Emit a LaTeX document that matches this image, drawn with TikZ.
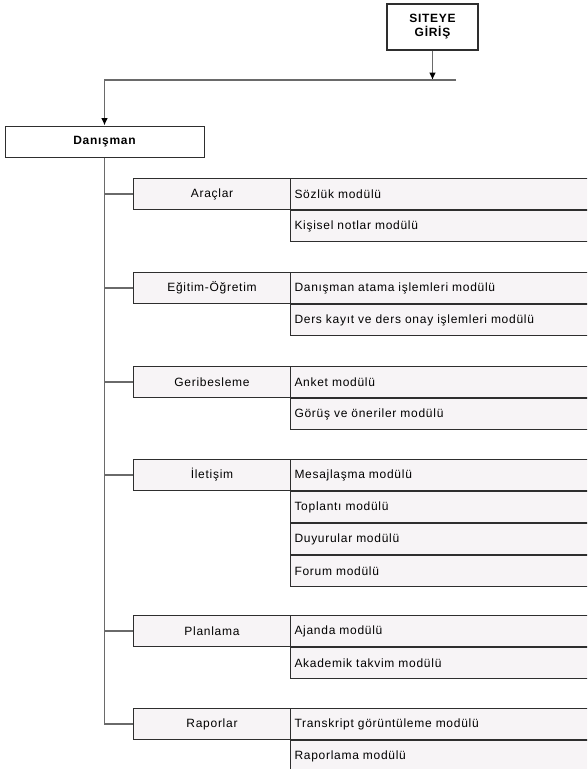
\documentclass[tikz,border=0pt]{standalone}
\usepackage{fontspec}
\newfontfamily\lbl[LetterSpace=6]{Liberation Sans}
\usetikzlibrary{arrows.meta}
\definecolor{boxfill}{HTML}{F7F4F6}
\definecolor{boxline}{HTML}{2E2E2E}
\definecolor{connline}{HTML}{6A6A6A}
\begin{document}
\begin{tikzpicture}[x=0.75pt,y=-0.75pt,
  txt/.style={font={\lbl\fontsize{9}{10.5}\selectfont}},
  box/.style={draw=boxline, fill=boxfill, line width=0.75pt, inner sep=0pt, txt},
  cat/.style={box, minimum width=157*0.75pt, minimum height=31*0.75pt, anchor=north west},
  mod/.style={box, minimum height=31*0.75pt, text width=226.5pt, inner xsep=3pt, align=left, anchor=north west},
  head/.style={draw=boxline, fill=white, line width=1.1pt, inner sep=0pt, align=center,
    font={\lbl\bfseries\fontsize{9}{10.5}\selectfont}},
  conn/.style={draw=connline, line width=1.1pt},
  tip/.style={-{Latex[length=5.5pt,width=5pt,color=black]}}]
\useasboundingbox (0,0) rectangle (587,769);
\clip (0,0) rectangle (587,769);

% entry box and the advisor box
\node[head, minimum width=91*0.75pt, minimum height=46*0.75pt] (giris) at (432.5,27) {SITEYE\\GİRİŞ};
\node[head, line width=0.75pt, minimum width=199*0.75pt, minimum height=31*0.75pt] (dan) at (104.5,141.5) {Danışman};

\coordinate (barR) at (456,80);
\draw[conn, tip] (giris.south) -- (giris.south |- barR);
\draw[conn, tip] (barR) -- (dan.north |- barR) -- (dan.north);

% categories with their modules
\node[cat] (c1) at (133,178) {Araçlar};
\node[mod] (m11) at (290,178) {Sözlük modülü};
\node[mod] (m12) at (m11.south west) {Kişisel notlar modülü};

\node[cat] (c2) at (133,272) {Eğitim-Öğretim};
\node[mod] (m21) at (290,272) {Danışman atama işlemleri modülü};
\node[mod] (m22) at (m21.south west) {Ders kayıt ve ders onay işlemleri modülü};

\node[cat] (c3) at (133,366) {Geribesleme};
\node[mod] (m31) at (290,366) {Anket modülü};
\node[mod] (m32) at (m31.south west) {Görüş ve öneriler modülü};

\node[cat] (c4) at (133,459) {İletişim};
\node[mod] (m41) at (290,459) {Mesajlaşma modülü};
\node[mod] (m42) at (m41.south west) {Toplantı modülü};
\node[mod] (m43) at (m42.south west) {Duyurular modülü};
\node[mod] (m44) at (m43.south west) {Forum modülü};

\node[cat] (c5) at (133,615) {Planlama};
\node[mod] (m51) at (290,615) {Ajanda modülü};
\node[mod] (m52) at (m51.south west) {Akademik takvim modülü};

\node[cat] (c6) at (133,708) {Raporlar};
\node[mod] (m61) at (290,708) {Transkript görüntüleme modülü};
\node[mod] (m62) at (m61.south west) {Raporlama modülü};

% trunk from the advisor box to each category
\draw[conn] (dan.south) -- (dan.south |- c6.west) -- (c6.west);
\foreach \c in {c1,c2,c3,c4,c5}
  \draw[conn] (dan.south |- \c.west) -- (\c.west);
\end{tikzpicture}
\end{document}
